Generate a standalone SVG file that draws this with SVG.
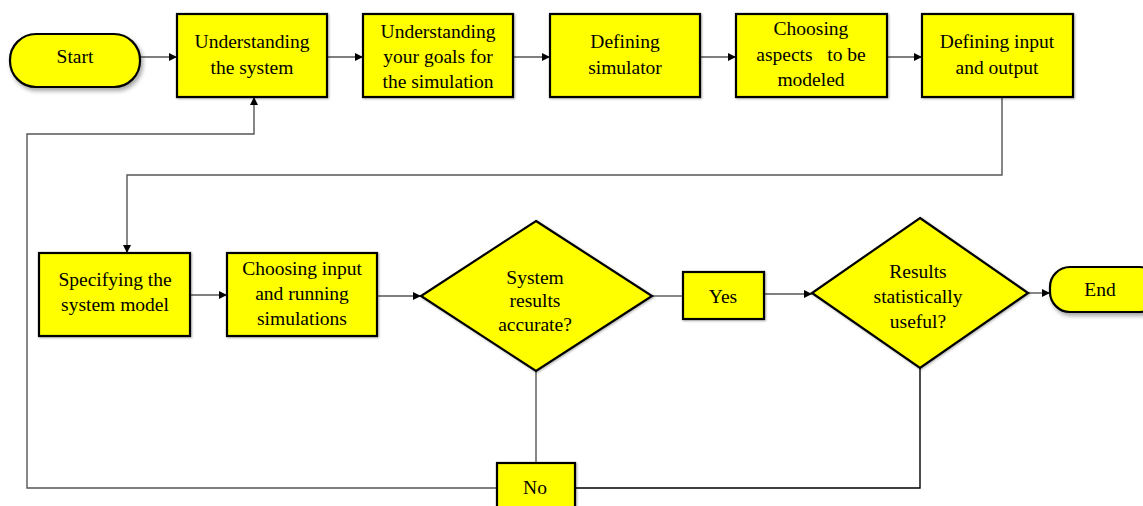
<svg xmlns="http://www.w3.org/2000/svg" width="1143" height="506" viewBox="0 0 1143 506">
<defs>
<style>
.n{fill:#ffff00;stroke:#000;stroke-width:2.2}
.t{font-family:"Liberation Serif","Times New Roman",serif;font-size:19.5px;fill:#000;text-anchor:middle}
.c{fill:none;stroke:#555;stroke-width:1.4}
.ca{fill:none;stroke:#555;stroke-width:1.4;marker-end:url(#ah)}
</style>
<marker id="ah" viewBox="0 0 10 10" refX="10" refY="5" markerWidth="8" markerHeight="8" markerUnits="userSpaceOnUse" orient="auto">
<path d="M0,0 L10,5 L0,10 z" fill="#000"/>
</marker>
<filter id="sh" x="-10%" y="-10%" width="130%" height="140%">
<feDropShadow dx="2" dy="3" stdDeviation="2" flood-color="#000" flood-opacity="0.35"/>
</filter>
<filter id="sh2" x="-10%" y="-10%" width="130%" height="140%">
<feDropShadow dx="1" dy="1" stdDeviation="0.8" flood-color="#000" flood-opacity="0.3"/>
</filter>
</defs>
<rect width="1143" height="506" fill="#fff"/>
<g id="connectors">
<path class="ca" d="M140,57 H177"/>
<path class="ca" d="M327,57 H363"/>
<path class="ca" d="M513,57 H550"/>
<path class="ca" d="M700,57 H736"/>
<path class="ca" d="M887,57 H922"/>
<path class="ca" d="M1002,97 V175 H127 V253"/>
<path class="ca" d="M190,295 H227"/>
<path class="ca" d="M377,296 H421"/>
<path class="c" d="M652,296 H683"/>
<path class="ca" d="M764,294 H812"/>
<path class="ca" d="M1028,293 H1050"/>
<path class="c" d="M536,370 V463"/>
<path class="ca" d="M497,488 H27 V134 H254 V97"/>
<path class="c" style="stroke:#000" d="M575,488 H920 V368"/>
</g>
<g id="start"><rect class="n" filter="url(#sh)" x="10" y="34" width="130" height="53" rx="26"/><text class="t" x="75" y="63">Start</text></g>
<g id="understand-system"><rect class="n" filter="url(#sh2)" x="177" y="14" width="150" height="83"/><text class="t" x="252" y="48">Understanding</text><text class="t" x="252" y="74">the system</text></g>
<g id="understand-goals"><rect class="n" filter="url(#sh2)" x="363" y="14" width="150" height="83"/><text class="t" x="438" y="38">Understanding</text><text class="t" x="438" y="63">your goals for</text><text class="t" x="438" y="88">the simulation</text></g>
<g id="defining-simulator"><rect class="n" filter="url(#sh2)" x="550" y="14" width="150" height="83"/><text class="t" x="625" y="48">Defining</text><text class="t" x="625" y="74">simulator</text></g>
<g id="choosing-aspects"><rect class="n" filter="url(#sh2)" x="736" y="14" width="151" height="83"/><text class="t" x="811" y="35">Choosing</text><text class="t" x="811" y="61" xml:space="preserve">aspects   to be</text><text class="t" x="811" y="86">modeled</text></g>
<g id="defining-io"><rect class="n" filter="url(#sh2)" x="922" y="14" width="151" height="83"/><text class="t" x="997" y="48">Defining input</text><text class="t" x="997" y="74">and output</text></g>
<g id="specifying"><rect class="n" filter="url(#sh2)" x="39" y="253" width="151" height="83"/><text class="t" x="115" y="286">Specifying the</text><text class="t" x="115" y="311">system model</text></g>
<g id="choosing-input"><rect class="n" filter="url(#sh2)" x="227" y="253" width="150" height="83"/><text class="t" x="302" y="275">Choosing input</text><text class="t" x="302" y="300">and running</text><text class="t" x="302" y="325">simulations</text></g>
<g id="accurate"><path class="n" filter="url(#sh2)" d="M536,221 L652,296 L536,371 L421,296 Z"/><text class="t" x="535" y="284">System</text><text class="t" x="535" y="307">results</text><text class="t" x="535" y="331">accurate?</text></g>
<g id="yes"><rect class="n" filter="url(#sh2)" x="683" y="272" width="81" height="47"/><text class="t" x="723" y="303">Yes</text></g>
<g id="useful"><path class="n" filter="url(#sh2)" d="M920,218 L1028,293 L920,368 L812,293 Z"/><text class="t" x="918" y="278">Results</text><text class="t" x="918" y="303">statistically</text><text class="t" x="918" y="328">useful?</text></g>
<g id="end"><rect class="n" filter="url(#sh)" x="1050" y="267" width="110" height="45" rx="20"/><text class="t" x="1100" y="296">End</text></g>
<g id="no"><rect class="n" filter="url(#sh2)" x="497" y="463" width="78" height="50"/><text class="t" x="535" y="494">No</text></g>
</svg>
